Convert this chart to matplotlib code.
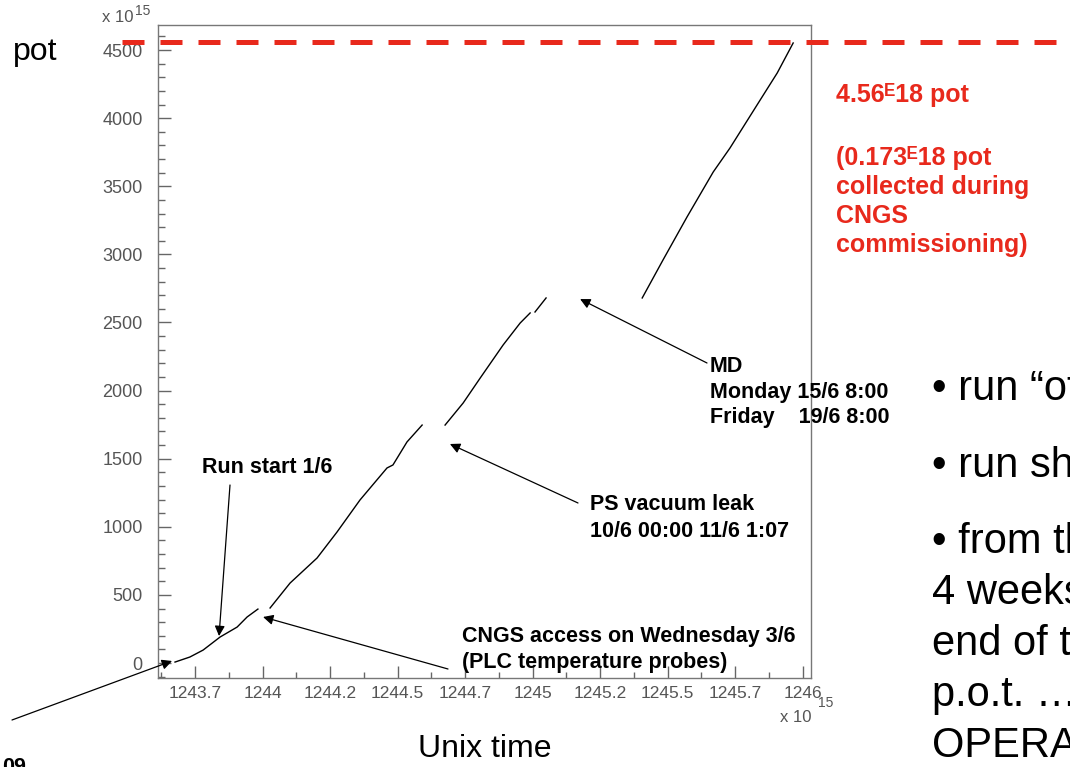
import matplotlib
matplotlib.use('Agg')
import matplotlib.pyplot as plt
from matplotlib.ticker import MultipleLocator

plt.rcParams['font.family'] = ['Liberation Sans', 'DejaVu Sans']

# cumulated p.o.t. (units of 1e15) vs unix time (units of 1e6 s), one list per beam period
seg_time = [
    [1243.676, 1243.731, 1243.780, 1243.843, 1243.906, 1243.943, 1243.983],
    [1244.028, 1244.102, 1244.202, 1244.276, 1244.361, 1244.461, 1244.483, 1244.535, 1244.591],
    [1244.676, 1244.743, 1244.806, 1244.891, 1244.954, 1244.991],
    [1245.009, 1245.050],
    [1245.406, 1245.483, 1245.572, 1245.669, 1245.731, 1245.843, 1245.906, 1245.965],
]
seg_pot = [
    [7, 44, 95, 191, 264, 338, 396],
    [404, 587, 771, 962, 1197, 1432, 1454, 1623, 1747],
    [1747, 1909, 2092, 2335, 2496, 2570],
    [2577, 2680],
    [2680, 2959, 3275, 3605, 3781, 4134, 4332, 4552],
]
pot_total = 4560

x_ticks = [1243.75, 1244.0, 1244.25, 1244.5, 1244.75, 1245.0, 1245.25, 1245.5, 1245.75, 1246.0]
x_tick_labels = ['1243.7', '1244', '1244.2', '1244.5', '1244.7', '1245', '1245.2', '1245.5', '1245.7', '1246']
y_ticks = [0, 500, 1000, 1500, 2000, 2500, 3000, 3500, 4000, 4500]

# points the arrows refer to (data coords)
ev_commissioning = (1243.665, 15)
ev_run_start = (1243.839, 198)
ev_cngs_access = (1244.002, 338)
ev_ps_leak = (1244.694, 1608)
ev_md = (1245.176, 2672)

W, H = 1070, 767
RED = '#E8291C'
GREY = '#666666'

fig = plt.figure(figsize=(W / 100, H / 100), dpi=100)
ax = fig.add_axes([158 / W, 1 - 678 / H, (811 - 158) / W, (678 - 25) / H])

for t, p in zip(seg_time, seg_pot):
    ax.plot(t, p, color='black', lw=1.0)

ax.set_xlim(1243.613, 1246.031)
ax.set_ylim(-110, 4684)

# red dashed line for the total, running out of the frame to the slide edge
ax.plot([1243.48, 1247.0], [pot_total, pot_total], color=RED, lw=3.6,
        dashes=(4.4, 3.2), clip_on=False, zorder=5)

ax.set_xticks(x_ticks)
ax.set_xticklabels(x_tick_labels)
ax.set_yticks(y_ticks)
ax.xaxis.set_minor_locator(MultipleLocator(0.125))
ax.yaxis.set_minor_locator(MultipleLocator(100))
ax.tick_params(axis='both', which='both', direction='in', color=GREY, width=1,
               top=False, right=False, labelcolor='#555555')
ax.tick_params(axis='y', which='major', length=9.5, pad=11, labelsize=13)
ax.tick_params(axis='y', which='minor', length=5)
ax.tick_params(axis='x', which='major', length=8.5, pad=6, labelsize=12.5)
ax.tick_params(axis='x', which='minor', length=4.5)
for s in ax.spines.values():
    s.set_color('#777777')
    s.set_linewidth(1.0)


def fp(x, y):
    # slide pixel (from top-left) -> figure pixels
    return (x, H - y)


def ftext(x, y, s, **kw):
    fig.text(x / W, 1 - y / H, s, va='baseline', **kw)


arrow = dict(arrowstyle='-|>', color='black', lw=0.9, mutation_scale=15,
             shrinkA=0, shrinkB=0)
for target, tail in [(ev_commissioning, (12, 720)), (ev_run_start, (230, 485)),
                     (ev_cngs_access, (448, 669)), (ev_ps_leak, (578, 503)),
                     (ev_md, (707, 363))]:
    ax.annotate('', xy=target, xycoords='data', xytext=fp(*tail),
                textcoords='figure pixels', arrowprops=arrow, annotation_clip=False)

bold = dict(fontsize=15.5, fontweight='bold', color='black')
ftext(202, 473, 'Run start 1/6', **bold)
ftext(462, 642, 'CNGS access on Wednesday 3/6', **bold)
ftext(462, 668, '(PLC temperature probes)', **bold)
ftext(590, 510, 'PS vacuum leak', **bold)
ftext(590, 537, '10/6 00:00 11/6 1:07', **bold)
ftext(710, 372, 'MD', **bold)
ftext(710, 398, 'Monday 15/6 8:00', **bold)
ftext(710, 423, 'Friday    19/6 8:00', **bold)
ftext(2, 773, '09', **bold)

red = dict(fontsize=18, fontweight='bold', color=RED)
ftext(836, 102, '4.56ᴱ18 pot', **red)
for i, line in enumerate(['(0.173ᴱ18 pot', 'collected during', 'CNGS', 'commissioning)']):
    ftext(836, 165 + 29 * i, line, **red)

# axis exponents, ROOT style
small = dict(fontsize=12, color='#555555')
ftext(102, 22, 'x 10', **small)
ftext(135, 15, '15', fontsize=10, color='#555555')
ftext(780, 722, 'x 10', **small)
ftext(818, 707, '15', fontsize=10, color='#555555')

ftext(13, 60, 'pot', fontsize=23, color='black')
ftext(418, 757, 'Unix time', fontsize=23, color='black')

big = dict(fontsize=30, color='black')
ftext(932, 400, '• run “officially”', **big)
ftext(932, 477, '• run shorter', **big)
for i, line in enumerate(['• from the', '4 weeks', 'end of the', 'p.o.t. …', 'OPERA']):
    ftext(932, 553 + 51 * i, line, **big)

fig.savefig('out.png', dpi=100)
